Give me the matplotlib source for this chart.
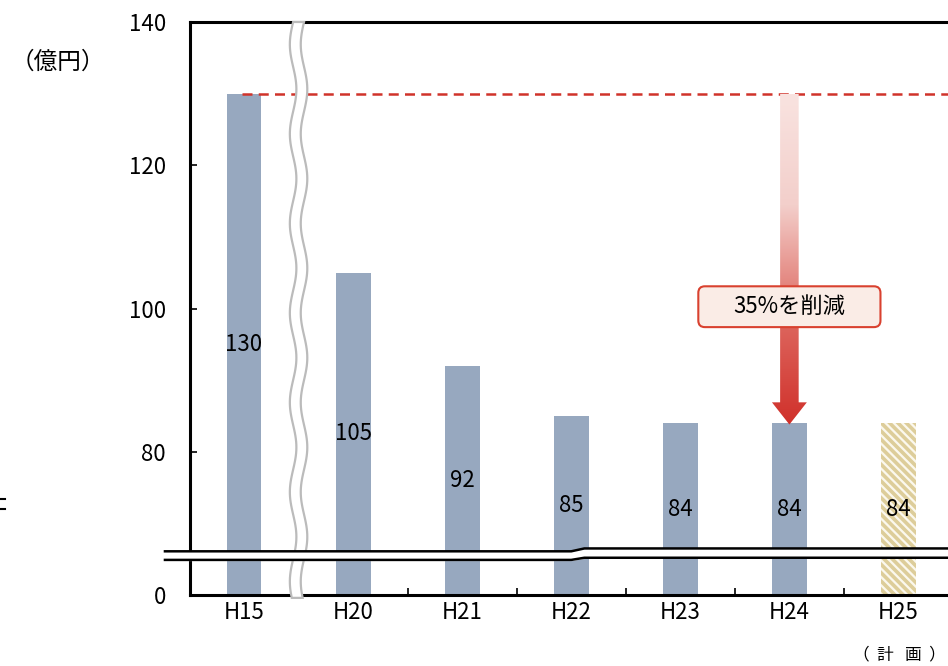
import numpy as np
import matplotlib
matplotlib.use('Agg')
import matplotlib.pyplot as plt
from matplotlib.patches import Polygon, FancyBboxPatch
from matplotlib.colors import LinearSegmentedColormap
from matplotlib.lines import Line2D

plt.rcParams['font.family'] = ['Noto Sans CJK JP', 'DejaVu Sans']
plt.rcParams['hatch.linewidth'] = 2.6

# data
years = ['H15', 'H20', 'H21', 'H22', 'H23', 'H24', 'H25']
values = [130, 105, 92, 85, 84, 84, 84]
y_ticks = [60, 80, 100, 120, 140]
y_tick_labels = ['0', '80', '100', '120', '140']
base = 60  # axis bottom stands for 0 (broken axis)
start_value = 130
cut_label = '35%を削減'

bar_color = '#97A8BF'
plan_color = '#DDCD9A'
red = '#D0332A'

fig = plt.figure(figsize=(9.48, 6.66), dpi=100)
ax = fig.add_axes([189.5 / 948, 71 / 666, 763.5 / 948, 573 / 666])

x = np.arange(len(years))
heights = [v - base for v in values]
bars = ax.bar(x[:-1], heights[:-1], width=0.32, bottom=base, color=bar_color, zorder=2)
plan = ax.bar(x[-1:], heights[-1:], width=0.32, bottom=base, color='#FBF8EE',
              edgecolor=plan_color, linewidth=0, hatch='\\\\\\\\', zorder=2)

# value labels, centred on the visible part of each bar
for xi, v in zip(x, values):
    ax.text(xi, (base + v) / 2, str(v), ha='center', va='center', fontsize=16, zorder=5)

ax.set_xlim(-0.5, 6.5)
ax.set_ylim(60, 140)
ax.set_yticks(y_ticks)
ax.set_yticklabels(y_tick_labels, fontsize=16)
ax.set_xticks(np.arange(-0.5, 6.6, 1))
ax.set_xticklabels([])
ax.set_xticks(x, minor=True)
ax.set_xticklabels(years, minor=True, fontsize=16)
ax.tick_params(axis='both', which='major', direction='in', length=5, width=1.2)
ax.tick_params(axis='y', pad=17)
ax.tick_params(axis='x', which='minor', length=0, pad=4)
for s in ['left', 'bottom', 'top']:
    ax.spines[s].set_linewidth(2.2)
ax.spines['right'].set_visible(False)

# red dashed reference line at H15 level
ax.plot([-0.02, 6.5], [start_value, start_value], ls=(0, (4, 2.5)), color=red, lw=1.8, zorder=3)

# gradient arrow from H15 level down to H24 bar
ax_c = 5
shaft_w, head_w = 0.085, 0.16
head_top, tip = 86.9, 83.8
arrow = Polygon([[ax_c - shaft_w, start_value], [ax_c + shaft_w, start_value],
                 [ax_c + shaft_w, head_top], [ax_c + head_w, head_top],
                 [ax_c, tip], [ax_c - head_w, head_top], [ax_c - shaft_w, head_top]],
                closed=True, facecolor='none', edgecolor='none', zorder=4)
ax.add_patch(arrow)
grad = LinearSegmentedColormap.from_list('g', ['#D0302A', '#DE6A62', '#F3CFCB', '#F9E3E0'])
img = ax.imshow(np.linspace(0, 1, 256).reshape(-1, 1), cmap=grad, aspect='auto',
                extent=[ax_c - head_w, ax_c + head_w, tip, start_value], origin='lower',
                zorder=4)
img.set_clip_path(arrow)
ax.set_xlim(-0.5, 6.5)
ax.set_ylim(60, 140)

box = FancyBboxPatch((4.165, 97.4), 1.67, 5.7, boxstyle='round,pad=0,rounding_size=0.06',
                     mutation_aspect=109 / 7.165, facecolor='#FAECE6', edgecolor='#D9412F',
                     linewidth=1.5, zorder=6)
ax.add_patch(box)
ax.text(5, 100.25, cut_label, ha='center', va='center', fontsize=16, zorder=7)

# wavy break between H15 and H20
yy = np.linspace(59.6, 140, 200)
wave = 0.03 * np.sin(2 * np.pi * (yy - 140) / 12.5)
left_edge = np.column_stack([0.45 + wave, yy])
right_edge = np.column_stack([0.55 + wave, yy])[::-1]
brk = Polygon(np.vstack([left_edge, right_edge]), closed=True, facecolor='white',
              edgecolor='#BBBBBB', linewidth=1.6, zorder=8, clip_on=False)
ax.add_patch(brk)

# horizontal axis break
bx = [-0.725, 3.0, 3.12, 6.5]
upper = [66.1, 66.1, 66.5, 66.5]
lower = [64.9, 64.9, 65.2, 65.2]
ax.fill_between(bx, lower, upper, color='white', zorder=9, clip_on=False)
ax.plot(bx, upper, color='black', lw=1.8, zorder=10, clip_on=False)
ax.plot(bx, lower, color='black', lw=1.8, zorder=10, clip_on=False)

# stray marks at the far left
fig.add_artist(Line2D([0, 5 / 948], [1 - 499 / 666] * 2, color='black', lw=1.5))
fig.add_artist(Line2D([0, 5 / 948], [1 - 509 / 666] * 2, color='black', lw=1.5))

fig.text(58 / 948, 1 - 62 / 666, '（億円）', ha='center', va='center', fontsize=17)
fig.text(899 / 948, 1 - 655 / 666, '（  計   画  ）', ha='center', va='center', fontsize=12)

fig.savefig('out.png', dpi=100)
